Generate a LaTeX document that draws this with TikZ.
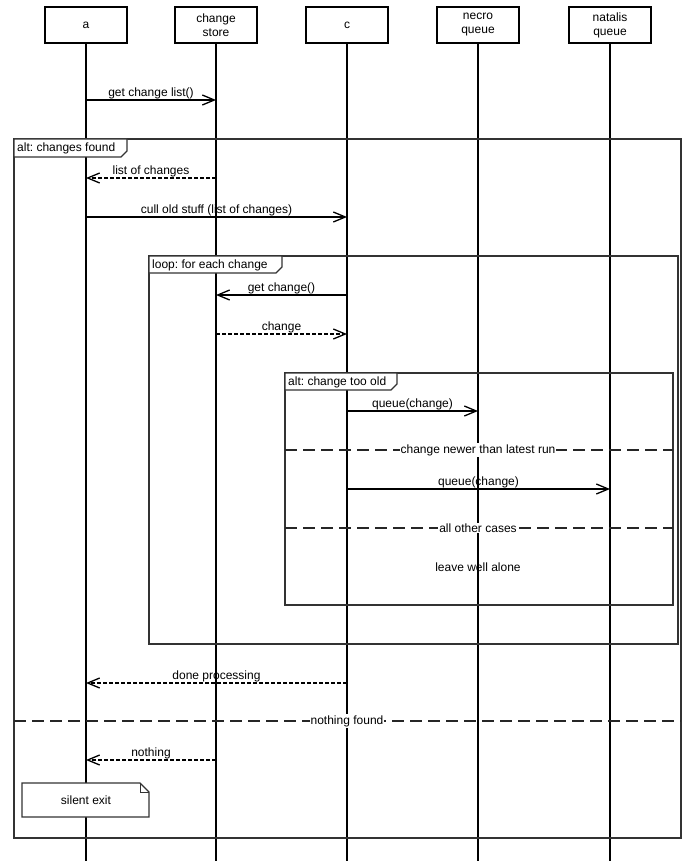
\documentclass[tikz,border=0pt]{standalone}
\usepackage{fontspec}
\setmainfont{Liberation Sans}
\frenchspacing
\usetikzlibrary{arrows.meta}
\tikzset{
  head/.style={draw=black,line width=1.5pt,fill=white,minimum width=82pt,minimum height=36pt,inner sep=0pt,align=center,font=\fontsize{12}{14}\selectfont},
  life/.style={line width=1.6pt,black},
  msg/.style={line width=1.3pt,-{Straight Barb[length=12pt,width=10pt,line width=1.3pt]}},
  ret/.style={msg,dash pattern=on 4pt off 2pt},
  lbl/.style={font=\fontsize{12}{14}\selectfont,inner sep=0.5pt,anchor=south},
  frm/.style={line width=1.3pt,draw=black!80},
  tab/.style={line width=1.3pt,draw=black!80,fill=white},
  tabtxt/.style={font=\fontsize{12}{14}\selectfont,anchor=west,inner sep=0pt},
  sep/.style={line width=1.3pt,draw=black!85,dash pattern=on 12pt off 6pt},
  seplbl/.style={font=\fontsize{12}{14}\selectfont,fill=white,inner sep=1pt},
  plain/.style={font=\fontsize{12}{14}\selectfont},
}
\begin{document}
\begin{tikzpicture}[x=1pt,y=-1pt]
\useasboundingbox (0,0) rectangle (700,861);
% lifelines
\node[head] (A) at (86,25) {a};
\node[head] (B) at (216,25) {change\\store};
\node[head] (C) at (347,25) {c};
\node[head] (D) at (478,25) {necro\\queue};
\node[head] (E) at (610,25) {natalis\\queue};
\coordinate (Ae) at (86,861);
\coordinate (Be) at (216,861);
\coordinate (Ce) at (347,861);
\coordinate (De) at (478,861);
\coordinate (Ee) at (610,861);
\foreach \n in {A,B,C,D,E} \draw[life] (\n.south) -- (\n e);

% first message
\draw[msg] (A |- 0,100) -- node[lbl]{get change list()} (B |- 0,100);

% outer alt frame
\draw[frm] (14,139) rectangle (681,838);
\draw[tab] (14,139) -- (127,139) -- (127,151) -- (121,157) -- (14,157) -- cycle;
\node[tabtxt] (t1) at (17,148) {alt: changes found};

\draw[ret] (B |- 0,178) -- node[lbl]{list of changes} (A |- 0,178);
\draw[msg] (A |- 0,217) -- node[lbl]{cull old stuff (list of changes)} (C |- 0,217);

% loop frame
\draw[frm] (149,256) rectangle (678,644);
\draw[tab] (149,256) -- (282,256) -- (282,267) -- (276,273) -- (149,273) -- cycle;
\node[tabtxt] (t2) at (152,265) {loop: for each change};

\draw[msg] (C |- 0,295) -- node[lbl]{get change()} (B |- 0,295);
\draw[ret] (B |- 0,334) -- node[lbl]{change} (C |- 0,334);

% inner alt frame
\draw[frm] (285,373) rectangle (673,605);
\draw[tab] (285,373) -- (397,373) -- (397,384) -- (391,390) -- (285,390) -- cycle;
\node[tabtxt] (t3) at (288,382) {alt: change too old};

\draw[msg] (C |- 0,411) -- node[lbl]{queue(change)} (D |- 0,411);
\draw[sep] (285,450) -- (673,450);
\node[seplbl] (s1) at (478,450) {change newer than latest run};
\draw[msg] (C |- 0,489) -- node[lbl]{queue(change)} (E |- 0,489);
\draw[sep] (285,528) -- (673,528);
\node[seplbl] (s2) at (478,528) {all other cases};
\node[plain] (lw) at (478,567) {leave well alone};

\draw[ret] (C |- 0,683) -- node[lbl]{done processing} (A |- 0,683);
\draw[sep] (14,721) -- (681,721);
\node[seplbl] (s3) at (347,721) {nothing found};
\draw[ret] (B |- 0,760) -- node[lbl]{nothing} (A |- 0,760);

% note
\draw[frm,fill=white] (22,783) -- (140,783) -- (149,792) -- (149,817) -- (22,817) -- cycle;
\draw[line width=1pt,draw=black!80] (140,783) -- (140,792) -- (149,792);
\node[plain] (note) at (86,800) {silent exit};
\end{tikzpicture}
\end{document}
